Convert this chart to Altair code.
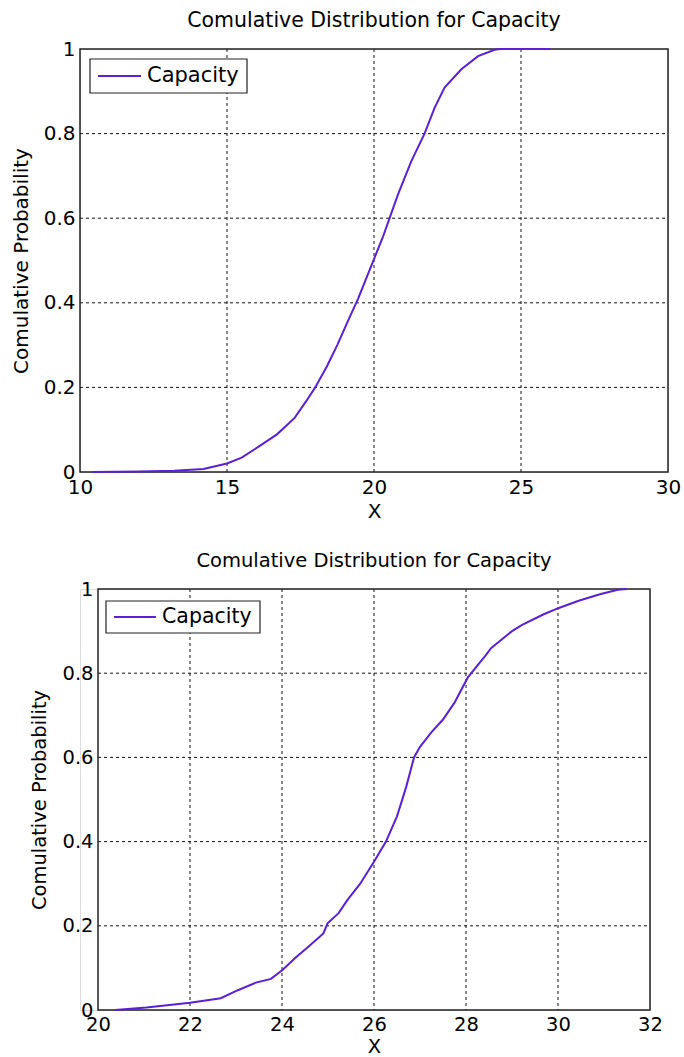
import altair as alt
import pandas as pd

SERIES = "Capacity"
TITLE = "Comulative Distribution for Capacity"
Y_TITLE = "Comulative Probability"
X_TITLE = "X"

# empirical CDF of the first capacity sample
x_upper = [10.4, 12.0, 13.2, 14.2, 15.0, 15.5, 16.1, 16.7, 17.3, 17.7,
           18.0, 18.4, 18.75, 19.1, 19.46, 19.75, 20.02, 20.3, 20.53, 20.82,
           21.27, 21.72, 22.06, 22.4, 22.97, 23.54, 24.1, 24.3, 26.0]
p_upper = [0.0, 0.001, 0.003, 0.007, 0.02, 0.034, 0.061, 0.089, 0.128, 0.168,
           0.2, 0.25, 0.3, 0.355, 0.41, 0.46, 0.507, 0.555, 0.6, 0.657,
           0.735, 0.8, 0.861, 0.909, 0.952, 0.983, 0.998, 1.0, 1.0]

# empirical CDF of the second capacity sample
x_lower = [20.37, 21.05, 22.0, 22.67, 23.04, 23.43, 23.76, 24.01, 24.28, 24.61,
           24.9, 24.99, 25.23, 25.42, 25.7, 26.0, 26.26, 26.5, 26.7, 26.87,
           27.0, 27.25, 27.5, 27.75, 28.04, 28.41, 28.55, 29.0, 29.22, 29.69,
           30.02, 30.45, 30.93, 31.3, 31.5]
p_lower = [0.0, 0.006, 0.017, 0.028, 0.047, 0.065, 0.074, 0.095, 0.123, 0.154,
           0.182, 0.206, 0.23, 0.261, 0.3, 0.352, 0.4, 0.46, 0.53, 0.6,
           0.625, 0.66, 0.69, 0.73, 0.79, 0.84, 0.86, 0.9, 0.915, 0.94,
           0.955, 0.972, 0.988, 0.998, 1.0]

x_ticks_upper = [10, 15, 20, 25, 30]
x_ticks_lower = [20, 22, 24, 26, 28, 30, 32]
p_ticks = [0, 0.2, 0.4, 0.6, 0.8, 1]

FONT = "DejaVu Sans"
LINE_COLOR = "#5a20d6"
FRAME_COLOR = "#222222"
GRID_COLOR = "#111111"


def panel(xs, ps, x_ticks, plot_w, plot_h, inset, title_size, font_size, legend):
    xdom = [x_ticks[0], x_ticks[-1]]
    xscale = alt.Scale(domain=xdom, range=[inset, inset + plot_w], nice=False, zero=False)
    yscale = alt.Scale(domain=[0, 1], nice=False, zero=False)

    curve = pd.DataFrame({"x": xs, "p": ps, "series": SERIES})
    vgrid = pd.DataFrame({"x": x_ticks[1:-1]})
    hgrid = pd.DataFrame({"p": p_ticks[1:-1], "x0": xdom[0], "x1": xdom[1]})
    frame = pd.DataFrame({"x0": [xdom[0]], "x1": [xdom[1]], "p0": [0], "p1": [1]})
    key = pd.DataFrame({"series": [SERIES]})

    x_axis = alt.Axis(values=x_ticks, format="~g", title=X_TITLE, grid=False, domain=False,
                      ticks=False, labelFont=FONT, labelFontSize=font_size, labelColor="black",
                      labelPadding=5, labelFlush=False, labelOverlap=False,
                      titleFont=FONT, titleFontSize=font_size, titleFontWeight="normal",
                      titleColor="black", titlePadding=4)
    y_axis = alt.Axis(values=p_ticks, format="~g", title=Y_TITLE, grid=False, domain=False,
                      ticks=False, labelFont=FONT, labelFontSize=font_size, labelColor="black",
                      labelPadding=5, labelFlush=False, labelOverlap=False,
                      titleFont=FONT, titleFontSize=font_size, titleFontWeight="normal",
                      titleColor="black", titlePadding=12, offset=-inset)

    def xf(field):
        return alt.X(field, type="quantitative", scale=xscale, axis=x_axis)

    def yf(field):
        return alt.Y(field, type="quantitative", scale=yscale, axis=y_axis)

    vlines = alt.Chart(vgrid).mark_rule(color=GRID_COLOR, strokeWidth=1, strokeDash=[3, 3]).encode(
        x=xf("x")
    )
    hlines = alt.Chart(hgrid).mark_rule(color=GRID_COLOR, strokeWidth=1, strokeDash=[3, 3]).encode(
        y=yf("p"), x=xf("x0"), x2="x1:Q"
    )
    box = alt.Chart(frame).mark_rect(fillOpacity=0, stroke=FRAME_COLOR, strokeWidth=1.5).encode(
        x=xf("x0"), x2="x1:Q", y=yf("p0"), y2="p1:Q"
    )
    line = alt.Chart(curve).mark_line(color=LINE_COLOR, strokeWidth=2).encode(
        x=xf("x"), y=yf("p"), order=alt.Order("x:Q")
    )

    lx, ly, lw, lh, sym_len, gap = legend
    lx += inset
    key_box = alt.Chart(key).mark_rect(fill="white", stroke=FRAME_COLOR, strokeWidth=1.2).encode(
        x=alt.value(lx), x2=alt.value(lx + lw), y=alt.value(ly), y2=alt.value(ly + lh)
    )
    key_line = alt.Chart(key).mark_rule(color=LINE_COLOR, strokeWidth=2).encode(
        x=alt.value(lx + 8), x2=alt.value(lx + 8 + sym_len), y=alt.value(ly + lh / 2)
    )
    key_text = alt.Chart(key).mark_text(align="left", baseline="middle", font=FONT,
                                        fontSize=font_size + 1, color="black").encode(
        x=alt.value(lx + 8 + sym_len + gap), y=alt.value(ly + lh / 2), text="series:N"
    )

    return alt.layer(vlines, hlines, box, line, key_box, key_line, key_text).properties(
        width=inset + plot_w,
        height=plot_h,
        title=alt.TitleParams(TITLE, font=FONT, fontSize=title_size, fontWeight="normal",
                              color="black", offset=8, dx=inset / 2),
    )


top = panel(x_upper, p_upper, x_ticks_upper, 588, 423, 0, 20.5, 20, (10, 10, 157, 34, 43, 6))
bottom = panel(x_lower, p_lower, x_ticks_lower, 552, 421, 18, 19.5, 19.5, (8, 12, 154, 32, 42, 6))

chart = alt.vconcat(top, bottom, spacing=28).properties(
    padding={"left": 10, "top": 10, "right": 0, "bottom": 0},
    background="white",
).configure_view(stroke=None).configure(font=FONT)

chart.save("out.html", embed_options={"renderer": "svg", "actions": False})
